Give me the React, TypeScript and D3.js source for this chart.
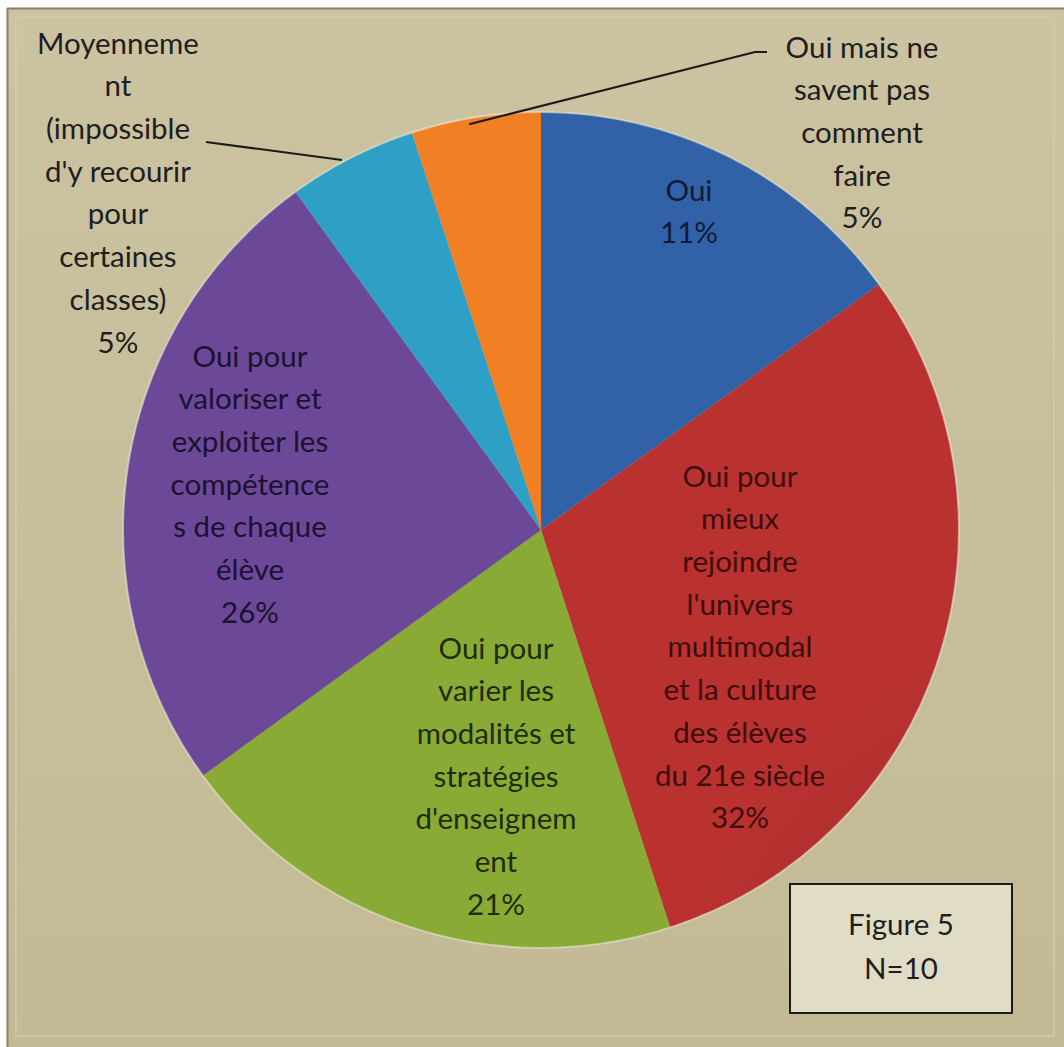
import React from "react";
import * as d3 from "d3";

const categories = [
  "Oui",
  "Oui pour mieux rejoindre l'univers multimodal et la culture des élèves du 21e siècle",
  "Oui pour varier les modalités et stratégies d'enseignement",
  "Oui pour valoriser et exploiter les compétences de chaque élève",
  "Moyennement (impossible d'y recourir pour certaines classes)",
  "Oui mais ne savent pas comment faire",
];
const sliceValues = [15, 30, 20, 25, 5, 5];
const labelPercents = ["11%", "32%", "21%", "26%", "5%", "5%"];
const labelLines = [
  ["Oui"],
  ["Oui pour", "mieux", "rejoindre", "l'univers", "multimodal", "et  la culture", "des élèves", "du 21e siècle"],
  ["Oui pour", "varier les", "modalités et", "stratégies", "d'enseignem", "ent"],
  ["Oui pour", "valoriser et", "exploiter les", "compétence", "s de chaque", "élève"],
  ["Moyenneme", "nt", "(impossible", "d'y recourir", "pour", "certaines", "classes)"],
  ["Oui mais ne", "savent pas", "comment", "faire"],
];
const colors = ["#2f5fa2", "#b3302e", "#84a534", "#674693", "#2c99be", "#e97b22"];
const figureTitle = ["Figure 5", "N=10"];

const W = 1064, H = 1047;
const cx = 541, cy = 530, R = 418;
const FS = 29.5;
const LH = 42.7;

const labelPos: [number, number][] = [
  [689, 190],
  [740, 476],
  [496, 648],
  [250, 356],
  [118, 43],
  [862, 47],
];
const textFill = ["#111a36", "#3f0d0d", "#1f2b0a", "#1c1130", "#1e1e1e", "#1e1e1e"];

export default function App() {
  const pie = d3.pie<number>().sort(null).value((d) => d)(sliceValues);
  const arc = d3.arc<d3.PieArcDatum<number>>().innerRadius(0).outerRadius(R);
  const font = "Lato, 'Open Sans', sans-serif";
  const orange = pie[5];
  const edge = (a: number, r: number): [number, number] => [cx + r * Math.sin(a), cy - r * Math.cos(a)];
  const orangePt = edge(orange.startAngle + (orange.endAngle - orange.startAngle) * 0.45, R);
  return (
    <svg width={W} height={H} style={{ position: "absolute", left: 0, top: 0, display: "block" }}>
      <defs>
        <linearGradient id="bg" x1="0" y1="0" x2="0" y2="1">
          <stop offset="0" stopColor="#cbc3a1" />
          <stop offset="1" stopColor="#c3ba95" />
        </linearGradient>
        {colors.map((c, i) => (
          <radialGradient key={i} id={`g${i}`} cx={cx} cy={cy} r={R} gradientUnits="userSpaceOnUse">
            <stop offset="0" stopColor={d3.color(c)!.darker(0.15).toString()} />
            <stop offset="0.85" stopColor={c} />
            <stop offset="1" stopColor={d3.color(c)!.brighter(0.1).toString()} />
          </radialGradient>
        ))}
      </defs>
      <rect x={0} y={0} width={W} height={H} fill="#ffffff" />
      <rect x={7} y={8} width={W - 7} height={H - 8} fill="url(#bg)" />
      <line x1={7.5} y1={8} x2={7.5} y2={H} stroke="#8a7f68" strokeWidth={2} />
      <line x1={7} y1={8.5} x2={W} y2={8.5} stroke="#8a7f68" strokeWidth={2} />
      <rect x={16} y={17} width={W - 26} height={H - 28} fill="none" stroke="#d2cba7" strokeWidth={1.5} />
      <g transform={`translate(${cx},${cy})`}>
        {pie.map((p, i) => (
          <path key={i} d={arc(p) || ""} fill={`url(#g${i})`} />
        ))}
        <circle r={R} fill="none" stroke="#e8e6d2" strokeOpacity={0.6} strokeWidth={2} />
      </g>
      <polyline points="342,160 206,142" fill="none" stroke="#1a1a1a" strokeWidth={2} />
      <polyline
        points={`${orangePt[0]},${orangePt[1] + 6} 755,52 767,52`}
        fill="none"
        stroke="#1a1a1a"
        strokeWidth={2}
      />
      {labelLines.map((lines, i) => {
        const [x, y0] = labelPos[i];
        const all = [...lines, labelPercents[i]];
        return (
          <text key={i} fontFamily={font} fontSize={FS} fill={textFill[i]} textAnchor="middle">
            {all.map((t, j) => (
              <tspan key={j} x={x} y={y0 + j * LH + FS * 0.36}>
                {t}
              </tspan>
            ))}
          </text>
        );
      })}
      <rect x={790} y={884} width={222} height={129} fill="#e1dcc5" stroke="#1a1a1a" strokeWidth={2} />
      {figureTitle.map((t, j) => (
        <text key={j} x={901} y={924 + j * 44 + FS * 0.36} fontFamily={font} fontSize={FS} fill="#1e1e1e" textAnchor="middle">
          {t}
        </text>
      ))}
    </svg>
  );
}
